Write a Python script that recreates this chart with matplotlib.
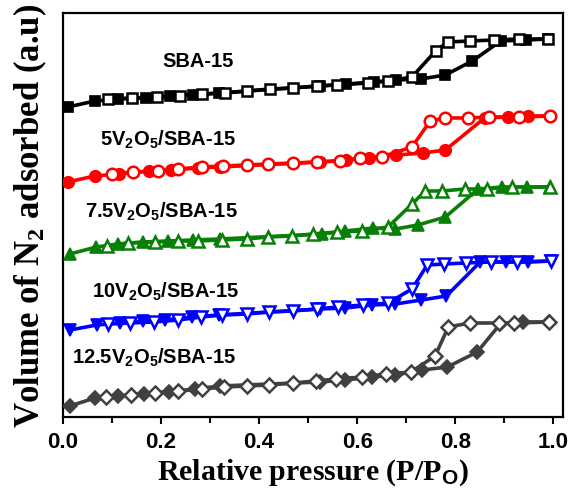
import matplotlib.pyplot as plt

plt.rcParams["mathtext.fontset"] = "custom"
plt.rcParams["mathtext.rm"] = "Liberation Serif:bold"
plt.rcParams["mathtext.sf"] = "Liberation Sans:bold"
plt.rcParams["mathtext.bf"] = "Liberation Sans:bold"
plt.rcParams["mathtext.it"] = "Liberation Sans:bold"
plt.rcParams["mathtext.default"] = "sf"

# SBA-15
sba_ads_p = [0.01, 0.065, 0.112, 0.17, 0.218, 0.265, 0.318, 0.525, 0.578, 0.635, 0.68, 0.73, 0.78, 0.835, 0.893, 0.945, 0.99]
sba_ads_v = [310, 316, 318, 319, 321, 322, 324, 331, 333, 335, 337, 338, 342, 356, 376, 377, 378]
sba_des_p = [0.99, 0.93, 0.88, 0.83, 0.785, 0.76, 0.712, 0.663, 0.622, 0.559, 0.518, 0.469, 0.422, 0.376, 0.331, 0.284, 0.239, 0.192, 0.141, 0.092]
sba_des_v = [378, 378, 377, 376, 375, 366, 340, 336, 334, 332, 331, 329, 328, 326, 324, 323, 321, 320, 319, 318]

# 5V2O5/SBA-15
v5_ads_p = [0.01, 0.065, 0.114, 0.175, 0.22, 0.275, 0.32, 0.525, 0.578, 0.625, 0.68, 0.735, 0.78, 0.86, 0.908, 0.949, 0.994]
v5_ads_v = [235, 241, 243, 246, 247, 249, 250, 255, 257, 259, 262, 264, 267, 299, 300, 301, 301]
v5_des_p = [0.994, 0.93, 0.87, 0.827, 0.78, 0.749, 0.712, 0.65, 0.606, 0.565, 0.518, 0.47, 0.418, 0.375, 0.327, 0.284, 0.235, 0.194, 0.143, 0.1]
v5_des_v = [301, 300, 300, 299, 299, 296, 270, 260, 259, 256, 255, 254, 253, 252, 251, 250, 248, 246, 245, 243]

# 7.5V2O5/SBA-15
v75_ads_p = [0.014, 0.068, 0.112, 0.163, 0.214, 0.265, 0.32, 0.529, 0.576, 0.633, 0.678, 0.724, 0.78, 0.847, 0.896, 0.947, 0.994]
v75_ads_v = [163, 170, 173, 175, 176, 177, 178, 183, 186, 189, 188, 192, 200, 228, 230, 230, 230]
v75_des_p = [0.994, 0.916, 0.865, 0.82, 0.773, 0.739, 0.712, 0.663, 0.61, 0.559, 0.51, 0.467, 0.418, 0.376, 0.324, 0.276, 0.235, 0.188, 0.133, 0.09]
v75_des_v = [230, 230, 228, 228, 226, 226, 213, 190, 186, 185, 183, 181, 180, 178, 177, 176, 176, 175, 174, 171]

# 10V2O5/SBA-15
v10_ads_p = [0.014, 0.069, 0.116, 0.163, 0.208, 0.263, 0.318, 0.524, 0.576, 0.631, 0.678, 0.731, 0.782, 0.851, 0.904, 0.949, 0.996]
v10_ads_v = [87, 92, 94, 96, 97, 100, 102, 108, 109, 112, 113, 117, 121, 155, 155, 155, 156]
v10_des_p = [0.996, 0.927, 0.873, 0.822, 0.778, 0.743, 0.712, 0.663, 0.612, 0.561, 0.518, 0.469, 0.42, 0.376, 0.324, 0.282, 0.235, 0.186, 0.137, 0.092]
v10_des_v = [156, 155, 155, 154, 153, 152, 128, 114, 112, 110, 108, 106, 105, 103, 102, 100, 97, 95, 94, 93]

# 12.5V2O5/SBA-15
v125_ads_p = [0.014, 0.065, 0.112, 0.165, 0.216, 0.269, 0.32, 0.525, 0.576, 0.631, 0.678, 0.733, 0.784, 0.845, 0.892, 0.939, 0.992]
v125_ads_v = [11, 19, 21, 23, 25, 28, 31, 35, 37, 40, 42, 47, 50, 65, 93, 95, 95]
v125_des_p = [0.992, 0.92, 0.89, 0.83, 0.786, 0.759, 0.71, 0.659, 0.61, 0.557, 0.516, 0.469, 0.42, 0.376, 0.329, 0.284, 0.235, 0.188, 0.139, 0.088]
v125_des_v = [95, 94, 94, 94, 90, 61, 45, 43, 40, 38, 36, 34, 32, 31, 30, 28, 26, 24, 22, 20]

sample_labels = [
    "SBA-15",
    "5V$_2$O$_5$/SBA-15",
    "7.5V$_2$O$_5$/SBA-15",
    "10V$_2$O$_5$/SBA-15",
    "12.5V$_2$O$_5$/SBA-15",
]
x_ticks = [0.0, 0.2, 0.4, 0.6, 0.8, 1.0]


def draw_isotherm(axis, ads_p, ads_v, des_p, des_v, color, marker, size):
    axis.plot(ads_p, ads_v, color=color, linewidth=2.6, marker=marker,
              markersize=size, markerfacecolor=color, markeredgecolor=color,
              markeredgewidth=1.2, zorder=3)
    axis.plot(des_p, des_v, color=color, linewidth=2.6, marker=marker,
              markersize=size, markerfacecolor="white", markeredgecolor=color,
              markeredgewidth=1.8, zorder=4)


figure = plt.figure(figsize=(5.69, 4.89), dpi=100)
axis = figure.add_axes([0.1107, 0.1452, 0.8788, 0.8262])

draw_isotherm(axis, sba_ads_p, sba_ads_v, sba_des_p, sba_des_v, "black", "s", 7.5)
draw_isotherm(axis, v5_ads_p, v5_ads_v, v5_des_p, v5_des_v, "#ff0000", "o", 8.3)
draw_isotherm(axis, v75_ads_p, v75_ads_v, v75_des_p, v75_des_v, "#088008", "^", 9)
draw_isotherm(axis, v10_ads_p, v10_ads_v, v10_des_p, v10_des_v, "#0000ff", "v", 9)
draw_isotherm(axis, v125_ads_p, v125_ads_v, v125_des_p, v125_des_v, "#404040", "D", 7.3)

label_font = dict(fontsize=14.5, fontweight="bold", family="Liberation Sans", va="center", ha="left")
axis.text(0.202, 356, sample_labels[0], **label_font)
axis.text(0.075, 278, sample_labels[1], **label_font)
axis.text(0.045, 206, sample_labels[2], **label_font)
axis.text(0.059, 126, sample_labels[3], **label_font)
axis.text(0.018, 60, sample_labels[4], **label_font)

axis.set_xlim(0, 1.02)
axis.set_ylim(0, 404)
axis.set_xticks(x_ticks)
axis.set_xticklabels([f"{t:.1f}" for t in x_ticks], fontsize=16, fontweight="bold", family="Liberation Sans")
axis.set_xticks([0.1, 0.3, 0.5, 0.7, 0.9], minor=True)
axis.set_yticks([])
axis.tick_params(axis="x", which="major", direction="out", length=5, width=1.5, pad=5)
axis.tick_params(axis="x", which="minor", direction="out", length=4, width=1.5)
for spine in axis.spines.values():
    spine.set_linewidth(1.6)

axis.set_xlabel(r"Relative pressure (P/P$_\mathsf{O}$)", fontsize=21.5, fontweight="bold",
                family="Liberation Serif", labelpad=3)
axis.set_ylabel(r"Volume of N$_\mathrm{2}$ adsorbed (a.u)", fontsize=25, fontweight="bold",
                family="Liberation Serif", labelpad=10)

figure.savefig("out.png", dpi=100)
